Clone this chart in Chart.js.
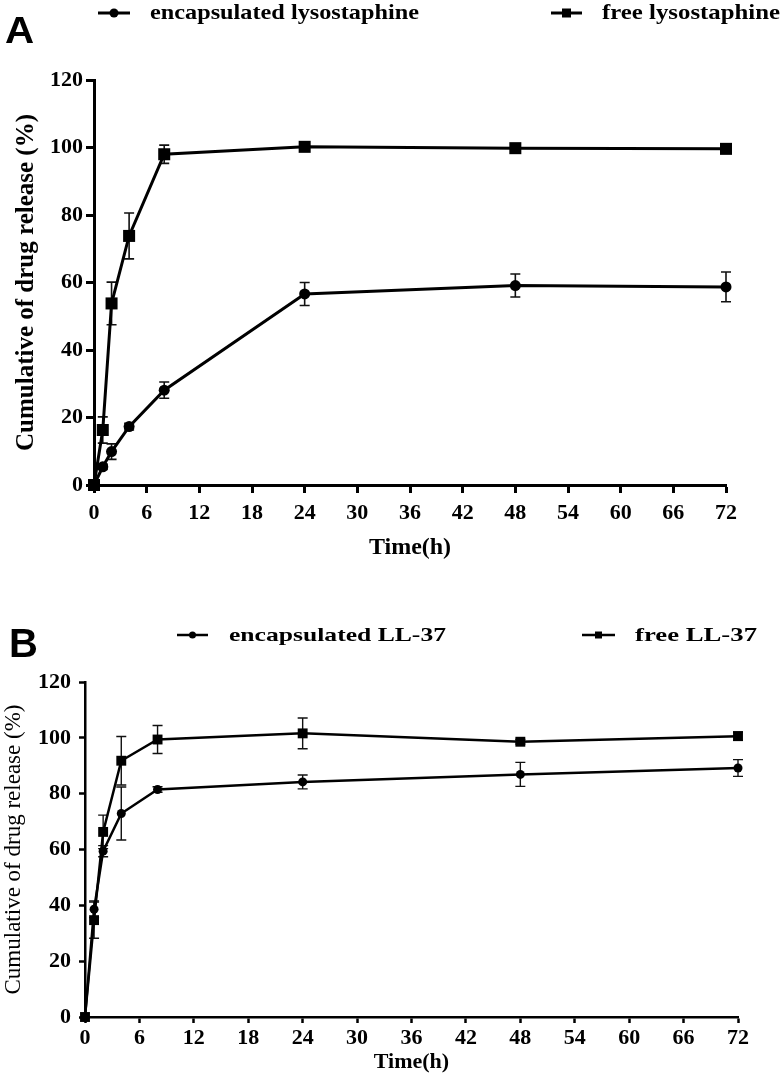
<!DOCTYPE html>
<html><head><meta charset="utf-8">
<script src="https://cdn.jsdelivr.net/npm/chart.js@4.4.1/dist/chart.umd.min.js"></script>
<style>
body{margin:0;background:#fff;width:784px;height:1075px;overflow:hidden;position:relative;}
.lab{position:absolute;font-family:"Liberation Sans",Arial,sans-serif;font-weight:bold;color:#000;line-height:1;transform-origin:0 0;}
#wa{position:absolute;left:0;top:0;width:784px;height:575px;}
#wb{position:absolute;left:0;top:600px;width:784px;height:475px;}
</style></head><body>
<div id="wa"><canvas id="ca" width="784" height="575"></canvas></div>
<div id="wb"><canvas id="cb" width="784" height="475"></canvas></div>
<div class="lab" style="left:5px;top:13px;font-size:36px;transform:scaleX(1.12);">A</div>
<div class="lab" style="left:9px;top:623px;font-size:40px;">B</div>
<script>
// ---- data ----
const timeHours = [0, 1, 2, 4, 8, 24, 48, 72];
const xTickValues = [0, 6, 12, 18, 24, 30, 36, 42, 48, 54, 60, 66, 72];
const yTickValues = [0, 20, 40, 60, 80, 100, 120];

const seriesNamesA = ['encapsulated lysostaphine', 'free lysostaphine'];
const encapLyso = [0, 5.4, 9.9, 17.3, 28.1, 56.6, 59.1, 58.7];
const encapLysoErr = [0, 0.8, 2.3, 1.0, 2.4, 3.4, 3.4, 4.4];
const freeLyso = [0, 16.3, 53.8, 73.8, 98.0, 100.2, 99.8, 99.6];
const freeLysoErr = [0, 3.9, 6.3, 6.8, 2.7, 0.6, 0.5, 0.5];

const seriesNamesB = ['encapsulated LL-37', 'free LL-37'];
const encapLL = [0, 38.6, 59.4, 72.9, 81.5, 84.2, 86.9, 89.2];
const encapLLErr = [0, 3.0, 2.0, 9.5, 1.0, 2.5, 4.3, 3.0];
const freeLL = [0, 34.7, 66.3, 91.8, 99.4, 101.6, 98.6, 100.6];
const freeLLErr = [0, 6.5, 6.0, 8.7, 5.0, 5.5, 0.8, 1.5];

const yTitle = 'Cumulative of drug release (%)';
const xTitle = 'Time(h)';

// ---- plugins ----
const errorBars = {
  id: 'errorBars',
  beforeDatasetsDraw(chart, args, opts) {
    const ctx = chart.ctx, xs = chart.scales.x, ys = chart.scales.y;
    ctx.save();
    ctx.strokeStyle = '#111';
    ctx.lineWidth = opts.lineWidth || 1.5;
    chart.data.datasets.forEach(ds => {
      ds.data.forEach((p, i) => {
        const e = ds.errors[i];
        if (!e) return;
        const x = xs.getPixelForValue(p.x);
        const y1 = ys.getPixelForValue(p.y + e), y2 = ys.getPixelForValue(p.y - e);
        const c = opts.cap || 5;
        ctx.beginPath();
        ctx.moveTo(x, y1); ctx.lineTo(x, y2);
        ctx.moveTo(x - c, y1); ctx.lineTo(x + c, y1);
        ctx.moveTo(x - c, y2); ctx.lineTo(x + c, y2);
        ctx.stroke();
      });
    });
    ctx.restore();
  }
};

const customLegend = {
  id: 'customLegend',
  afterDraw(chart, args, opts) {
    const ctx = chart.ctx;
    ctx.save();
    chart.data.datasets.forEach((ds, i) => {
      const it = opts.items[i];
      ctx.strokeStyle = '#000';
      ctx.lineWidth = opts.lineWidth;
      ctx.beginPath();
      ctx.moveTo(it.x0, opts.y); ctx.lineTo(it.x1, opts.y);
      ctx.stroke();
      const mx = (it.x0 + it.x1) / 2;
      ctx.fillStyle = '#000';
      ctx.beginPath();
      if (ds.pointStyle === 'rect') {
        const s = opts.sq;
        ctx.rect(mx - s / 2, opts.y - s / 2, s, s);
      } else {
        ctx.arc(mx, opts.y, opts.r, 0, Math.PI * 2);
      }
      ctx.fill();
      ctx.font = 'bold ' + opts.fontSize + 'px "Liberation Serif", "Times New Roman", serif';
      ctx.textBaseline = 'middle';
      ctx.textAlign = 'left';
      const w = ctx.measureText(ds.label).width;
      const sx = it.w / w;
      ctx.save();
      ctx.translate(it.tx, opts.y + 1);
      ctx.scale(sx, 1);
      ctx.fillText(ds.label, 0, 0);
      ctx.restore();
    });
    ctx.restore();
  }
};

function makeChart(id, names, s1, e1, s2, e2, L) {
  const mk = (vals) => timeHours.map((t, i) => ({x: t, y: vals[i]}));
  const serif = '"Liberation Serif", "Times New Roman", serif';
  return new Chart(document.getElementById(id), {
    type: 'line',
    data: {
      datasets: [
        {label: names[0], data: mk(s1), errors: e1, pointStyle: 'circle', pointRadius: L.cr,
         borderColor: '#000', backgroundColor: '#000', borderWidth: L.lw, pointBorderWidth: 0, tension: 0, clip: false},
        {label: names[1], data: mk(s2), errors: e2, pointStyle: 'rect', pointRadius: L.sr,
         borderColor: '#000', backgroundColor: '#000', borderWidth: L.lw, pointBorderWidth: 0, tension: 0, clip: false}
      ]
    },
    options: {
      responsive: false,
      animation: false,
      devicePixelRatio: 1,
      layout: {padding: {left: 0, top: L.top, right: L.right, bottom: 0}},
      plugins: {
        legend: {display: false},
        tooltip: {enabled: false},
        errorBars: {lineWidth: L.elw, cap: L.cap},
        customLegend: L.legend
      },
      scales: {
        x: {
          type: 'linear', min: 0, max: 72,
          afterBuildTicks: s => { s.ticks = xTickValues.map(v => ({value: v})); },
          afterFit: s => { s.height = L.xh; },
          border: {display: true, color: '#000', width: L.aw},
          grid: {display: true, drawOnChartArea: false, drawTicks: true, tickLength: L.tl, tickWidth: L.aw, color: '#000'},
          ticks: {color: '#000', padding: L.xpad, maxRotation: 0, autoSkip: false,
                  font: {family: serif, weight: 'bold', size: L.tf}},
          title: {display: true, text: xTitle, color: '#000', padding: {top: 0, bottom: L.xtpad},
                  font: {family: serif, weight: 'bold', size: L.xtf}}
        },
        y: {
          type: 'linear', min: 0, max: 120,
          afterBuildTicks: s => { s.ticks = yTickValues.map(v => ({value: v})); },
          afterFit: s => { s.width = L.yw; },
          border: {display: true, color: '#000', width: L.aw},
          grid: {display: true, drawOnChartArea: false, drawTicks: true, tickLength: L.tl, tickWidth: L.aw, color: '#000'},
          ticks: {color: '#000', padding: L.ypad, autoSkip: false,
                  font: {family: serif, weight: 'bold', size: L.tf}},
          title: {display: true, text: yTitle, color: '#000', padding: {top: L.ytpad, bottom: 0},
                  font: {family: serif, weight: L.ytw, size: L.ytf}}
        }
      }
    },
    plugins: [errorBars, customLegend]
  });
}

makeChart('ca', seriesNamesA, encapLyso, encapLysoErr, freeLyso, freeLysoErr, {
  top: 80, right: 58, xh: 90, yw: 94, lw: 3, aw: 3, tl: 8, tf: 22, xpad: 7, ypad: 3,
  xtf: 24, xtpad: 13, ytf: 25, ytw: 'bold', ytpad: 12, cr: 5.5, sr: 8.5, elw: 1.6, cap: 5,
  legend: {y: 13, lineWidth: 3, r: 4.5, sq: 9, fontSize: 21,
           items: [{x0: 98, x1: 130, tx: 150, w: 269}, {x0: 551, x1: 582, tx: 602, w: 178}]}
});

makeChart('cb', seriesNamesB, encapLL, encapLLErr, freeLL, freeLLErr, {
  top: 82, right: 46, xh: 58, yw: 85, lw: 2.5, aw: 2.5, tl: 6, tf: 22, xpad: 2, ypad: 8,
  xtf: 22, xtpad: -1, ytf: 23, ytw: 'normal', ytpad: 0, cr: 4.5, sr: 7, elw: 1.4, cap: 5,
  legend: {y: 35, lineWidth: 2.5, r: 3.5, sq: 7, fontSize: 19,
           items: [{x0: 177, x1: 208, tx: 229, w: 217}, {x0: 582, x1: 615, tx: 635, w: 122}]}
});
</script>
</body></html>
